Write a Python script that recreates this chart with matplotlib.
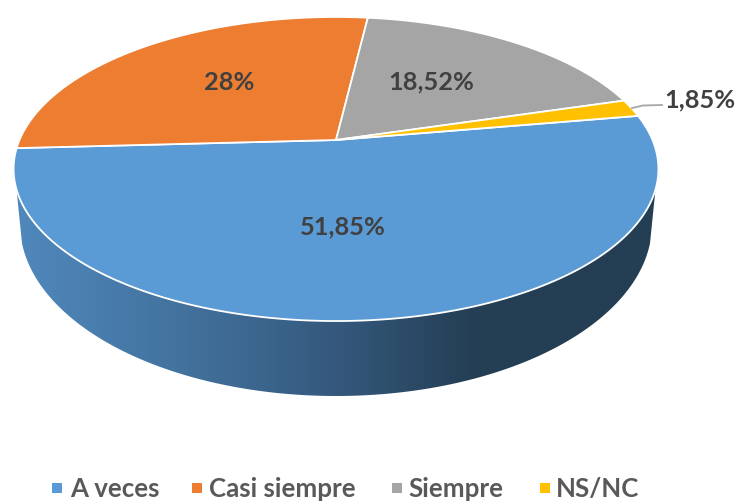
import numpy as np
import matplotlib
matplotlib.use('Agg')
import matplotlib.pyplot as plt
from matplotlib.colors import LinearSegmentedColormap
from matplotlib.patches import Polygon

# data
categories = ['A veces', 'Casi siempre', 'Siempre', 'NS/NC']
values = [51.85, 27.78, 18.52, 1.85]
value_labels = ['51,85%', '28%', '18,52%', '1,85%']
colors = ['#5B9BD5', '#ED7D31', '#A5A5A5', '#FFC000']

plt.rcParams['font.family'] = ['Lato', 'DejaVu Sans']

fig = plt.figure(figsize=(7.37, 5.02), dpi=100)
ax = fig.add_axes([0, 0, 1, 1])
ax.set_xlim(0, 737)
ax.set_ylim(502, 0)
ax.axis('off')

# perspective of the tilted disc, in pixels
apex_x, apex_y = 336, 141
scale_x, scale_y, persp = 316.5, 146.5, 0.1908
start_angle = 9.8


def project(theta):
    # theta in degrees, circle -> screen through a homography
    t = np.radians(theta)
    w = 1 + persp * np.sin(t)
    return apex_x + scale_x * np.cos(t) / w, apex_y - scale_y * np.sin(t) / w


# side wall with the horizontal gradient
bottom_cx, bottom_cy, bottom_rx, bottom_ry = 336, 225, 316, 172
t_top = np.linspace(0, 360, 721)
xt, yt = project(t_top)
low = (yt > 190)
order = np.argsort(xt[low])
top_x, top_y = xt[low][order], yt[low][order]
t_bot = np.radians(np.linspace(6.5, 173.5, 200))
bot_x = bottom_cx + bottom_rx * np.cos(t_bot)
bot_y = bottom_cy + bottom_ry * np.sin(t_bot)
wall = np.column_stack([np.r_[top_x, bot_x], np.r_[top_y, bot_y]])
wall_patch = Polygon(wall, closed=True, facecolor='none', edgecolor='none')
ax.add_patch(wall_patch)
wall_cmap = LinearSegmentedColormap.from_list(
    'wall', [(0, '#5088BC'), (0.25, '#43739F'), (0.5, '#35597D'), (0.62, '#2B4A66'),
             (0.72, '#243E54'), (1, '#243E54')])
img = ax.imshow(np.linspace(0, 1, 400).reshape(1, -1), cmap=wall_cmap, aspect='auto',
                extent=(14, 658, 400, 180), zorder=1)
img.set_clip_path(wall_patch)
ax.set_xlim(0, 737)
ax.set_ylim(502, 0)

# top of the pie, clockwise from the start angle
angle = start_angle
for v, c in zip(values, colors):
    sweep = v / sum(values) * 360
    th = np.linspace(angle, angle - sweep, 300)
    x, y = project(th)
    ax.fill(np.r_[apex_x, x], np.r_[apex_y, y], facecolor=c, edgecolor='white',
            linewidth=1.3, joinstyle='round', zorder=2)
    angle -= sweep

# leader line of the small slice
ax.plot([632, 643, 662], [109, 106.5, 106], color='#A6A6A6', linewidth=1.3, zorder=3)

# slice labels
label_pos = [(343, 227), (229, 83), (431, 82), (700, 100)]
for (lx, ly), s in zip(label_pos, value_labels):
    ax.text(lx, ly, s, ha='center', va='center', fontsize=18.3, fontweight='bold',
            color='#404040', zorder=4)

# legend
marker_x = [52, 192, 392, 540]
text_x = [70, 209, 408, 556]
for mx, tx, s, c in zip(marker_x, text_x, categories, colors):
    ax.fill([mx, mx + 10, mx + 10, mx], [484, 484, 494, 494], facecolor=c, edgecolor='none')
    ax.text(tx, 489, s, ha='left', va='center', fontsize=18.6, fontweight='bold', color='#595959')

fig.savefig('out.png', dpi=100)
